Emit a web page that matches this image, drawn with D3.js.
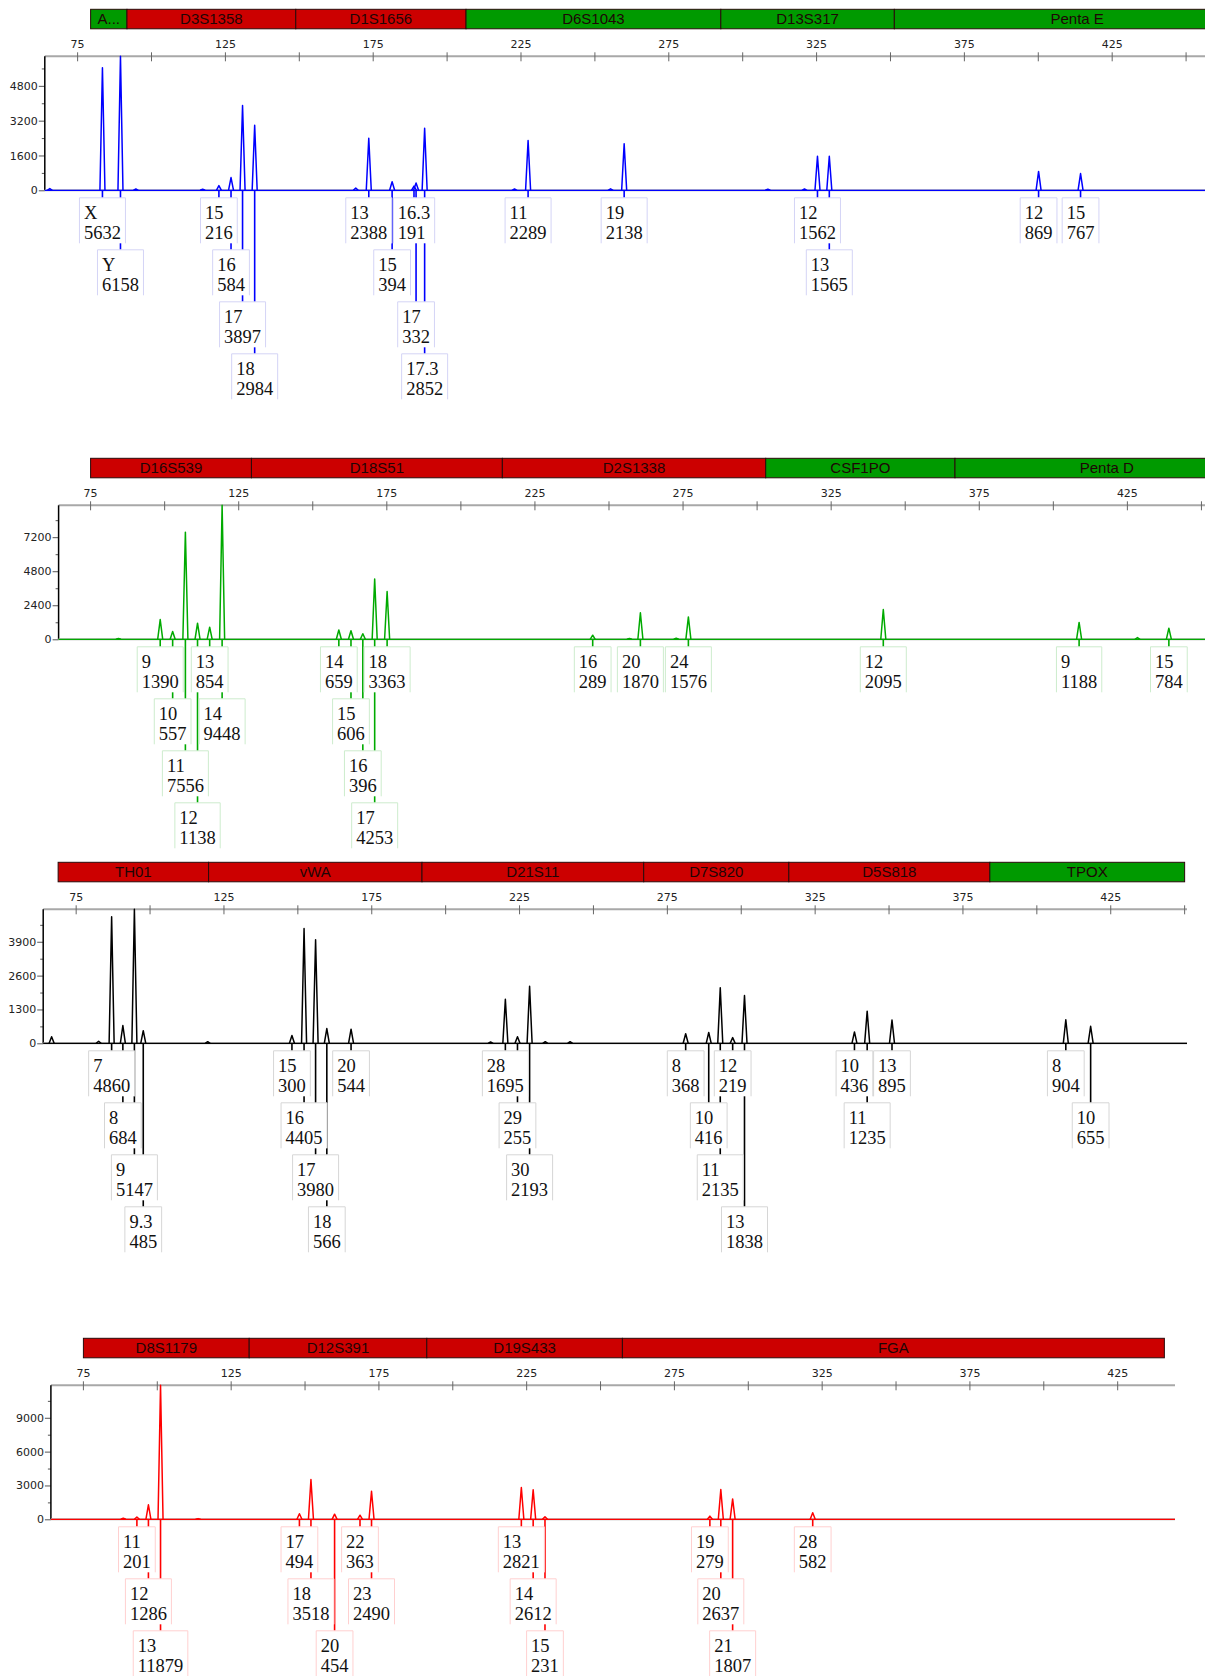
<!DOCTYPE html>
<html>
<head>
<meta charset="utf-8">
<script src="https://cdn.jsdelivr.net/npm/d3@7"></script>
<style>
body { margin: 0; background: #fff; }
svg { display: block; }
.locus text { font-family: "Liberation Sans", Arial, sans-serif; font-size: 15px; fill: #1e0505; text-anchor: middle; }
.sizes text, .yaxis text { font-family: "DejaVu Sans", Verdana, sans-serif; font-size: 11px; fill: #222; }
.call text { font-family: "Liberation Serif", "Times New Roman", serif; font-size: 18.5px; fill: #111; }
</style>
</head>
<body>
<div id="chart"></div>
<script>
// size axis (bp)
var sizeTicks = [75, 100, 125, 150, 175, 200, 225, 250, 275, 300, 325, 350, 375, 400, 425, 450];
var sizeLabels = [75, 125, 175, 225, 275, 325, 375, 425];

// blue dye
var p1LocusNames = ["A...", "D3S1358", "D1S1656", "D6S1043", "D13S317", "Penta E"];
var p1LocusStart = [79.4, 91.7, 148.8, 206.4, 292.6, 351.3];
var p1LocusEnd = [91.7, 148.8, 206.4, 292.6, 351.3, 475];
var p1LocusStatus = ["ok", "warn", "warn", "ok", "ok", "ok"];
var p1Alleles = ["X", "Y", "15", "16", "17", "18", "13", "15", "16.3", "17", "17.3", "11", "19", "12", "13", "12", "15"];
var p1Sizes = [83.4, 89.5, 122.8, 126.9, 130.8, 134.9, 173.5, 181.4, 188.8, 189.5, 192.4, 227.4, 259.9, 325.3, 329.3, 400.1, 414.3];
var p1Heights = [5632, 6158, 216, 584, 3897, 2984, 2388, 394, 191, 332, 2852, 2289, 2138, 1562, 1565, 869, 767];
var p1MinorSizes = [65.6, 94.7, 117.3, 169.1, 222.8, 255.3, 308.5, 320.9];
var p1MinorHeights = [80, 60, 50, 100, 60, 70, 50, 60];
var p1YTicks = [0, 1600, 3200, 4800];

// green dye
var p2LocusNames = ["D16S539", "D18S51", "D2S1338", "CSF1PO", "Penta D"];
var p2LocusStart = [75, 129.3, 214.0, 302.9, 366.8];
var p2LocusEnd = [129.3, 214.0, 302.9, 366.8, 469.3];
var p2LocusStatus = ["warn", "warn", "warn", "ok", "ok"];
var p2Alleles = ["9", "10", "11", "12", "13", "14", "14", "15", "16", "17", "18", "16", "20", "24", "12", "9", "15"];
var p2Sizes = [98.5, 102.7, 107.0, 111.1, 115.2, 119.4, 158.8, 162.9, 166.9, 170.9, 175.1, 244.5, 260.6, 276.8, 342.6, 408.7, 439.0];
var p2Heights = [1390, 557, 7556, 1138, 854, 9448, 659, 606, 396, 4253, 3363, 289, 1870, 1576, 2095, 1188, 784];
var p2MinorSizes = [84.4, 256.9, 272.7, 428.4];
var p2MinorHeights = [60, 60, 70, 120];
var p2YTicks = [0, 2400, 4800, 7200];

// black dye
var p3LocusNames = ["TH01", "vWA", "D21S11", "D7S820", "D5S818", "TPOX"];
var p3LocusStart = [68.9, 119.8, 192.0, 267.0, 316.1, 384.1];
var p3LocusEnd = [119.8, 192.0, 267.0, 316.1, 384.1, 450.0];
var p3LocusStatus = ["warn", "warn", "warn", "warn", "warn", "ok"];
var p3Alleles = ["7", "8", "9", "9.3", "15", "16", "17", "18", "20", "28", "29", "30", "8", "10", "11", "12", "13", "10", "11", "13", "8", "10"];
var p3Sizes = [87.0, 90.8, 94.7, 97.7, 148.0, 152.1, 156.0, 159.8, 168.0, 220.2, 224.3, 228.4, 281.2, 289.0, 292.9, 297.1, 301.1, 338.3, 342.6, 351.0, 409.8, 418.2];
var p3Heights = [4860, 684, 5147, 485, 300, 4405, 3980, 566, 544, 1695, 255, 2193, 368, 416, 2135, 219, 1838, 436, 1235, 895, 904, 655];
var p3MinorSizes = [66.7, 82.6, 119.5, 215.2, 233.7, 242.1];
var p3MinorHeights = [250, 80, 60, 50, 60, 60];
var p3YTicks = [0, 1300, 2600, 3900];

// red dye
var p4LocusNames = ["D8S1179", "D12S391", "D19S433", "FGA"];
var p4LocusStart = [75, 131.1, 191.2, 257.4];
var p4LocusEnd = [131.1, 191.2, 257.4, 440.8];
var p4LocusStatus = ["warn", "warn", "warn", "warn"];
var p4Alleles = ["11", "12", "13", "17", "18", "20", "22", "23", "13", "14", "15", "19", "20", "21", "28"];
var p4Sizes = [93.1, 97.0, 101.1, 148.1, 152.0, 160.0, 168.6, 172.5, 223.2, 227.2, 231.2, 287.0, 290.7, 294.7, 321.8];
var p4Heights = [201, 1286, 11879, 494, 3518, 454, 363, 2490, 2821, 2612, 231, 279, 2637, 1807, 582];
var p4MinorSizes = [88.5, 113.8];
var p4MinorHeights = [100, 60];
var p4YTicks = [0, 3000, 6000, 9000];

var W = 1205, H = 1676;
var svg = d3.select("#chart")
  .append("svg")
    .attr("width", W)
    .attr("height", H);

function drawPanel(p) {
    var axisY = p.top + 47;
    var baseline = axisY + 134;
    var x = d3.scaleLinear().domain([p.sMin, p.sMax]).range([p.left, p.right]);
    var y = d3.scaleLinear().domain([0, d3.max(p.heights)]).range([baseline, axisY]);
    var g = svg.append("g");

    // locus bar
    var loci = p.locusNames.map(function(n, i) {
        return { name: n, start: p.locusStart[i], end: p.locusEnd[i], status: p.locusStatus[i] };
    });
    var lg = g.append("g").attr("class", "locus");
    lg.selectAll("rect")
        .data(loci)
        .enter()
        .append("rect")
            .attr("x", function(d) { return x(d.start); })
            .attr("y", p.top)
            .attr("width", function(d) { return Math.min(x(d.end), W + 1) - x(d.start); })
            .attr("height", 19.5)
            .attr("fill", function(d) { return d.status === "ok" ? "#009a00" : "#cc0000"; })
            .attr("stroke", "#2a0a0a")
            .attr("stroke-width", 1);
    lg.selectAll("text")
        .data(loci)
        .enter()
        .append("text")
            .attr("x", function(d) { return (x(d.start) + x(d.end)) / 2; })
            .attr("y", p.top + 15)
            .text(function(d) { return d.name; });

    // size axis on top
    var sg = g.append("g").attr("class", "sizes");
    sg.append("line")
        .attr("x1", p.left).attr("x2", p.right)
        .attr("y1", axisY).attr("y2", axisY)
        .attr("stroke", "#a8a8a8").attr("stroke-width", 2);
    sg.selectAll("line.tk")
        .data(sizeTicks.filter(function(v) { return v <= p.sMax; }))
        .enter()
        .append("line")
            .attr("class", "tk")
            .attr("x1", function(d) { return x(d); })
            .attr("x2", function(d) { return x(d); })
            .attr("y1", axisY - 4).attr("y2", axisY + 5)
            .attr("stroke", "#666").attr("stroke-width", 1);
    sg.selectAll("text")
        .data(sizeLabels)
        .enter()
        .append("text")
            .attr("x", function(d) { return x(d); })
            .attr("y", axisY - 8)
            .attr("text-anchor", "middle")
            .text(function(d) { return d; });

    // y axis
    var step = p.yTicks[1] - p.yTicks[0];
    var yMax = d3.max(p.heights);
    var yg = g.append("g").attr("class", "yaxis")
        .attr("transform", "translate(" + p.left + ",0)");
    yg.call(d3.axisLeft(y).tickValues(p.yTicks).tickSize(6).tickPadding(1).tickFormat(d3.format("d")));
    yg.append("g").call(d3.axisLeft(y).tickValues(d3.range(step / 2, yMax, step)).tickSize(3).tickFormat(""));
    yg.selectAll(".domain").remove();
    yg.selectAll(".tick line").attr("stroke", "#555");
    yg.selectAll(".tick text").attr("fill", "#222");
    g.append("line")
        .attr("x1", p.left).attr("x2", p.left)
        .attr("y1", axisY).attr("y2", baseline)
        .attr("stroke", "#000").attr("stroke-width", 1.5);

    // trace
    var line = d3.line()
        .x(function(d) { return x(d[0]); })
        .y(function(d) { return y(d[1]); });
    g.append("path")
        .attr("d", line([[p.sMin, 0], [p.sMax, 0]]))
        .attr("stroke", "#b0b0b0").attr("stroke-width", 2).attr("fill", "none");
    g.append("path")
        .attr("d", line([[p.sMin, 0], [p.sMax, 0]]))
        .attr("stroke", p.color).attr("stroke-width", 1.2).attr("fill", "none");

    var peaks = p.sizes.map(function(s, i) { return [s, p.heights[i]]; })
        .concat(p.minorSizes.map(function(s, i) { return [s, p.minorHeights[i]]; }));
    g.append("g").selectAll("path")
        .data(peaks)
        .enter()
        .append("path")
            .attr("d", function(d) { return line([[d[0] - 0.85, 0], [d[0], d[1]], [d[0] + 0.85, 0]]); })
            .attr("stroke", p.color)
            .attr("stroke-width", 1.5)
            .attr("stroke-linejoin", "round")
            .attr("fill", "none");

    // allele calls, stacked into rows under the baseline
    var calls = p.alleles.map(function(a, i) {
        return { allele: a, size: p.sizes[i], height: p.heights[i] };
    });
    var meas = g.append("g").attr("class", "call");
    var rowEnds = [];
    calls.forEach(function(c) {
        var t = meas.append("text").text(c.allele);
        var w1 = t.node().getComputedTextLength();
        t.text(c.height);
        var w2 = t.node().getComputedTextLength();
        t.remove();
        c.w = Math.max(w1, w2) + 9;
        c.cx = x(c.size);
        c.left = c.cx - c.w / 2;
        var r = 0;
        while (rowEnds[r] !== undefined && c.left < rowEnds[r]) r++;
        rowEnds[r] = c.left + c.w;
        c.row = r;
        c.top = baseline + 7.5 + r * 52;
    });

    g.append("g").selectAll("line")
        .data(calls)
        .enter()
        .append("line")
            .attr("x1", function(d) { return d.cx; })
            .attr("x2", function(d) { return d.cx; })
            .attr("y1", baseline)
            .attr("y2", function(d) { return d.top; })
            .attr("stroke", p.color)
            .attr("stroke-width", 1.6);

    var boxes = g.append("g").attr("class", "call")
        .selectAll("g")
        .data(calls)
        .enter()
        .append("g")
            .attr("transform", function(d) { return "translate(" + d.left + "," + d.top + ")"; });
    boxes.append("rect")
        .attr("x", 0).attr("y", 0)
        .attr("width", function(d) { return d.w; })
        .attr("height", 45.5)
        .attr("fill", "#fff");
    boxes.append("path")
        .attr("d", function(d) { return "M0,45.5V0H" + d.w + "V45.5"; })
        .attr("fill", "none")
        .attr("stroke", p.light)
        .attr("stroke-width", 1);
    boxes.append("text")
        .attr("x", 4.5).attr("y", 21)
        .text(function(d) { return d.allele; });
    boxes.append("text")
        .attr("x", 4.5).attr("y", 41.5)
        .text(function(d) { return d.height; });
}

drawPanel({
    top: 9.3, left: 44.8, right: 1205, sMin: 63.9, sMax: 456.4,
    color: "#0000ff", light: "#d4d4f6",
    locusNames: p1LocusNames, locusStart: p1LocusStart, locusEnd: p1LocusEnd, locusStatus: p1LocusStatus,
    alleles: p1Alleles, sizes: p1Sizes, heights: p1Heights,
    minorSizes: p1MinorSizes, minorHeights: p1MinorHeights, yTicks: p1YTicks
});
drawPanel({
    top: 458.3, left: 58.6, right: 1205, sMin: 64.2, sMax: 451.2,
    color: "#00aa00", light: "#cdeccd",
    locusNames: p2LocusNames, locusStart: p2LocusStart, locusEnd: p2LocusEnd, locusStatus: p2LocusStatus,
    alleles: p2Alleles, sizes: p2Sizes, heights: p2Heights,
    minorSizes: p2MinorSizes, minorHeights: p2MinorHeights, yTicks: p2YTicks
});
drawPanel({
    top: 862.3, left: 43.2, right: 1187, sMin: 63.85, sMax: 450.8,
    color: "#000000", light: "#d6d6d6",
    locusNames: p3LocusNames, locusStart: p3LocusStart, locusEnd: p3LocusEnd, locusStatus: p3LocusStatus,
    alleles: p3Alleles, sizes: p3Sizes, heights: p3Heights,
    minorSizes: p3MinorSizes, minorHeights: p3MinorHeights, yTicks: p3YTicks
});
drawPanel({
    top: 1338.3, left: 50.9, right: 1175, sMin: 64.0, sMax: 444.4,
    color: "#ff0000", light: "#ffd0d0",
    locusNames: p4LocusNames, locusStart: p4LocusStart, locusEnd: p4LocusEnd, locusStatus: p4LocusStatus,
    alleles: p4Alleles, sizes: p4Sizes, heights: p4Heights,
    minorSizes: p4MinorSizes, minorHeights: p4MinorHeights, yTicks: p4YTicks
});
</script>
</body>
</html>
